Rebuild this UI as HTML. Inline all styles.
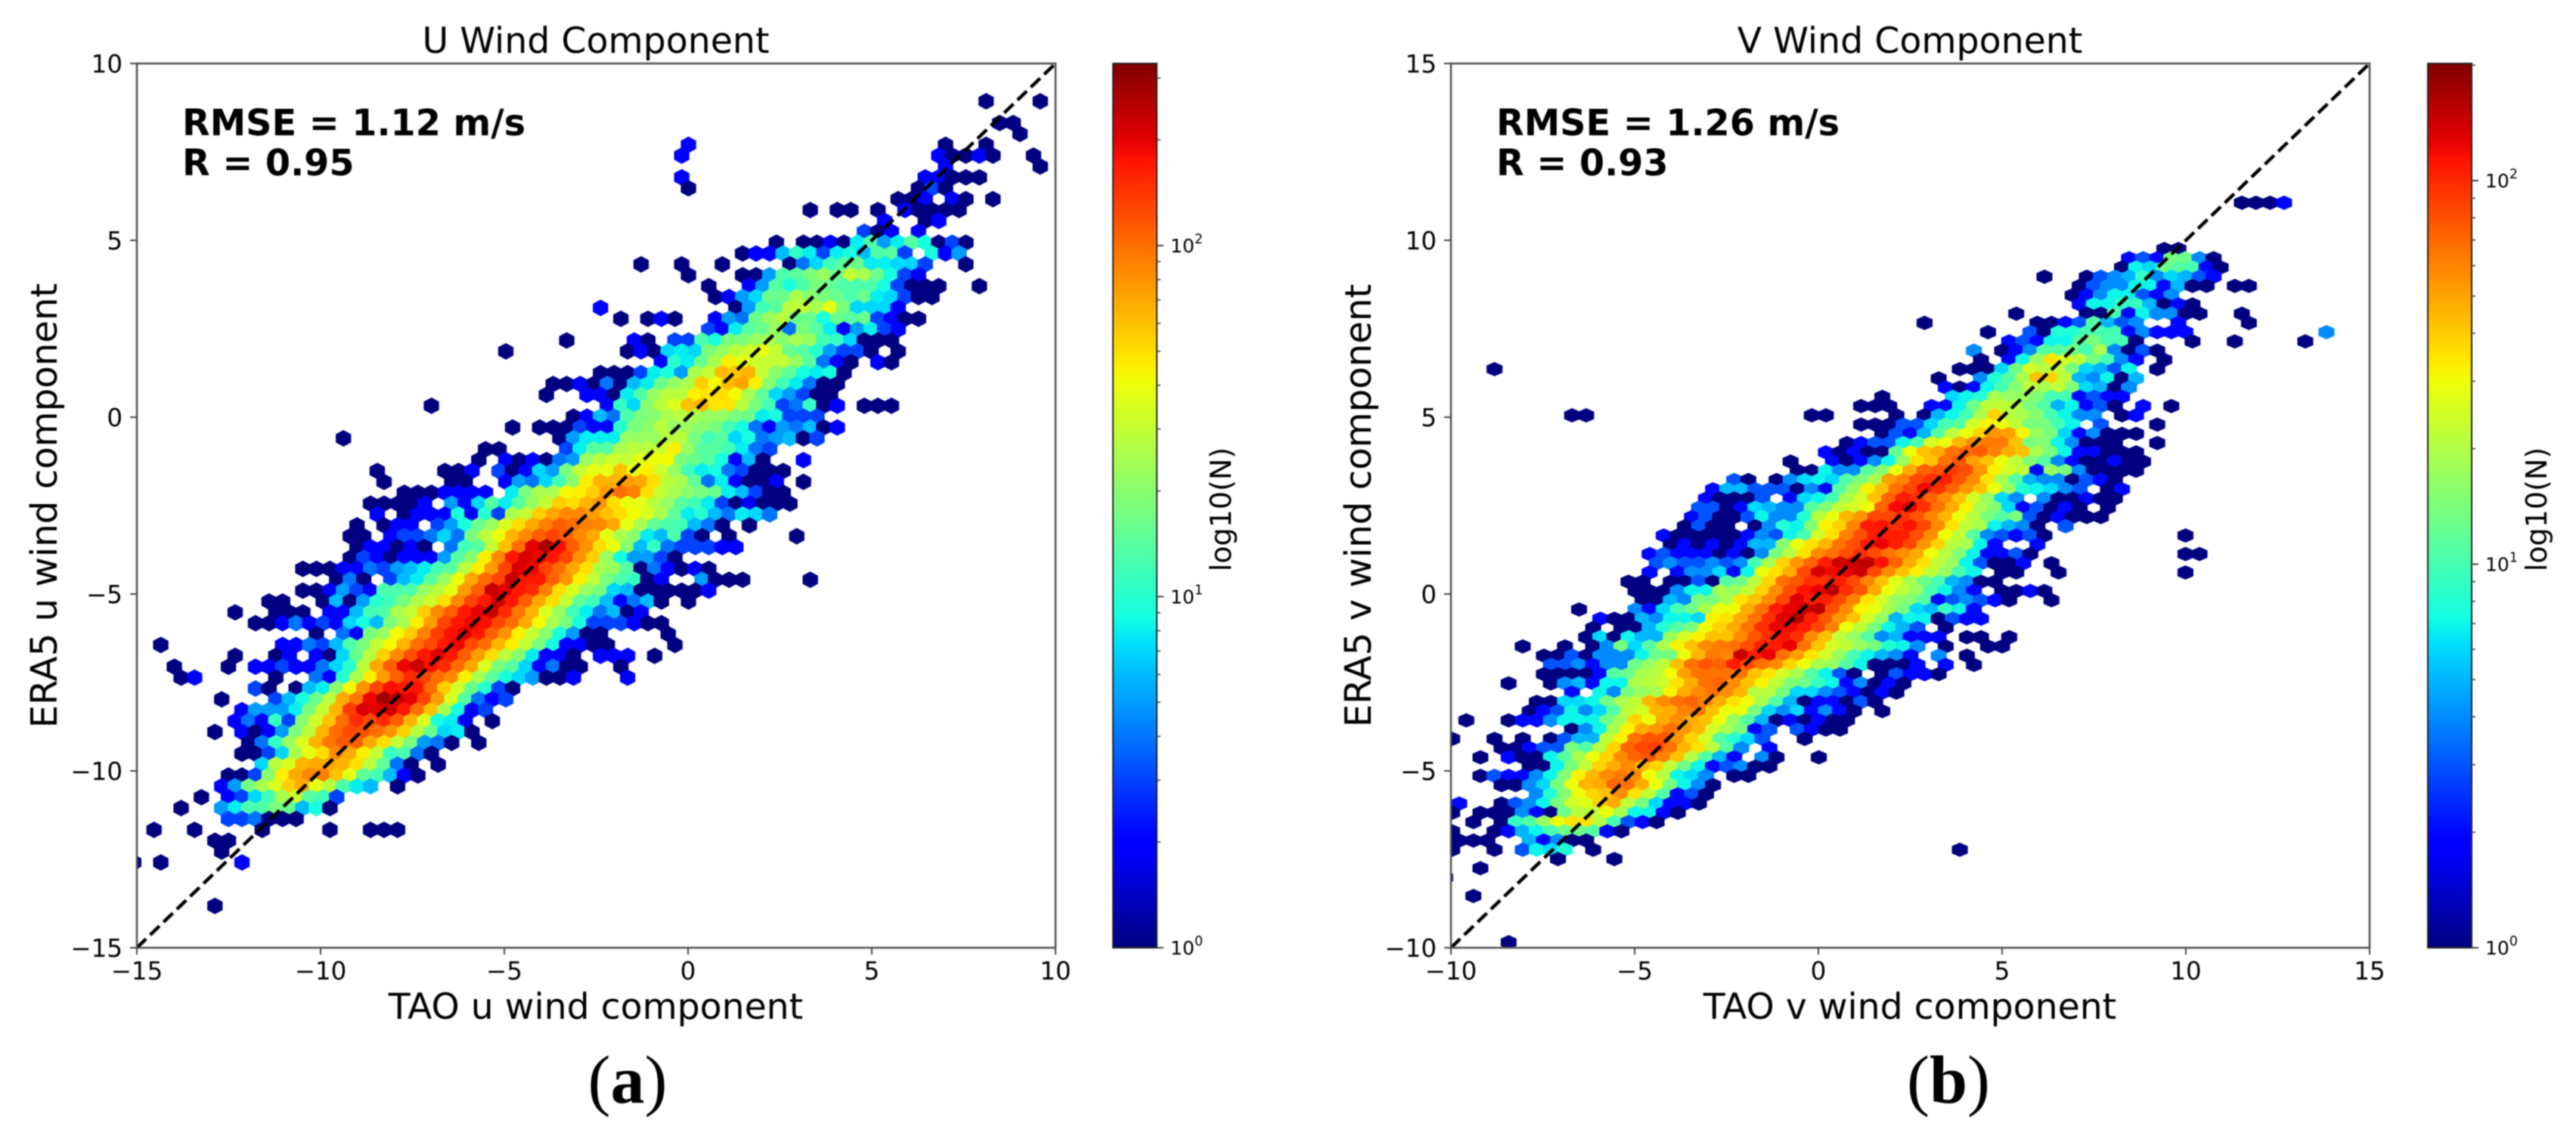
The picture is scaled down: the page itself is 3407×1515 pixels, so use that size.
<!DOCTYPE html>
<html lang="en">
<head>
<meta charset="utf-8">
<title>TAO vs ERA5 wind component hexbin comparison</title>
<style>
html,body{margin:0;padding:0;background:#fff;}
svg{display:block;filter:blur(0.7px);}
text{font-family:"DejaVu Sans","Liberation Sans",sans-serif;fill:#000;}
.cap{font-family:"Liberation Serif",serif;font-size:90px;}
</style>
</head>
<body>
<svg id="figure" xmlns="http://www.w3.org/2000/svg" width="3407" height="1515" viewBox="0 0 3407 1515">
  <defs>
    <clipPath id="clip-u"><rect x="181" y="84" width="1215" height="1170"/></clipPath>
    <clipPath id="clip-v"><rect x="1919" y="84" width="1215" height="1170"/></clipPath>
    <linearGradient id="jet-gradient" x1="0" y1="1" x2="0" y2="0"></linearGradient>
  </defs>
  <rect x="0" y="0" width="3407" height="1515" fill="#fff"/>
  <g id="panel-u"></g>
  <g id="panel-v"></g>

  <text x="788" y="70" font-size="47.4" text-anchor="middle">U Wind Component</text>
  <text x="788" y="1348" font-size="47.3" text-anchor="middle">TAO u wind component</text>
  <text transform="translate(75,669) rotate(-90)" font-size="48.2" text-anchor="middle">ERA5 u wind component</text>
  <text x="241" y="179" font-size="47.7" font-weight="bold">RMSE = 1.12 m/s</text>
  <text x="241" y="232" font-size="47.7" font-weight="bold">R = 0.95</text>
  <text transform="translate(1628,674) rotate(-90)" font-size="38" text-anchor="middle">log10(N)</text>
  <text class="cap" x="830" y="1459" text-anchor="middle">(<tspan font-weight="bold">a</tspan>)</text>

  <text x="2526" y="70" font-size="47.4" text-anchor="middle">V Wind Component</text>
  <text x="2526" y="1348" font-size="47.3" text-anchor="middle">TAO v wind component</text>
  <text transform="translate(1813,669) rotate(-90)" font-size="48.2" text-anchor="middle">ERA5 v wind component</text>
  <text x="1979" y="179" font-size="47.7" font-weight="bold">RMSE = 1.26 m/s</text>
  <text x="1979" y="232" font-size="47.7" font-weight="bold">R = 0.93</text>
  <text transform="translate(3368,674) rotate(-90)" font-size="38" text-anchor="middle">log10(N)</text>
  <text class="cap" x="2577" y="1459" text-anchor="middle">(<tspan font-weight="bold">b</tspan>)</text>
</svg>

<script>
// Axis ticks and diagonals (m/s)
const uAxisTicks = [-15, -10, -5, 0, 5, 10];
const vAxisTicks = [-10, -5, 0, 5, 10, 15];
const uDiagonal = [-15, 10];
const vDiagonal = [-10, 15];

// Colorbar scale (counts, log axis)
const uColorMax = 330;
const vColorMax = 202;
const colorbarDecades = [0, 1, 2];
const colorbarMinorMultiples = [2, 3, 4, 5, 6, 7, 8, 9];

// Hexbin counts.
// One entry per lattice row, top to bottom. Each row holds runs: [firstColumn, count, count, ...]
const uRowBins = [
[[62,1,0,0,0,1]],
[],
[[63,1,1]],
[[65,1]],
[[40,2],[59,1,0,0,1]],
[[40,2],[59,2,1,1,2,1,0,0,1]],
[[59,2],[66,1]],
[[40,2],[58,2,2,1,1,1]],
[[40,1],[57,1,3,1]],
[[56,1,1,2,0,2,1,0,1]],
[[49,1,0,1,1,0,1,0,2,1,1,1,1]],
[[55,2,0,0,1,2]],
[[53,3,1,2,0,2]],
[[47,1,0,1,1,2,1,8,13,5,8,14,9,1,3,1]],
[[44,1,2,2,6,11,8,3,8,9,6,13,14,3,0,9,2,5]],
[[37,1,0,0,1],[43,1],[48,1,4,7,12,14,16,8,8,7,7,3,0,0,1]],
[[40,1],[44,1,1,5,13,14,18,22,16,30,25,16,9,3,2]],
[[42,1],[45,2,5,14,9,13,18,16,13,13,13,9,3,1,1,1,0,0,1]],
[[42,1,2,5,7,16,16,25,20,18,16,13,16,8,7,3,1,1]],
[[34,2],[44,1,5,12,14,28,30,25,38,18,7,7,7,2]],
[[35,1,0,1,2,1,0,0,2,5,4,16,22,28,16,16,9,16,14,16,3,2,1,1]],
[[42,3,2,8,14,16,22,4,18,14,8,2,5,8,3,2]],
[[31,1],[36,2,1,0,3,3,13,9,18,18,22,25,20,25,22,12,11,7,1,1,1]],
[[27,1],[36,1,2,1,7,8,7,18,22,28,32,40,30,16,14,10,5,3,3,1,0,1]],
[[38,2,10,8,16,25,45,38,32,30,30,22,14,4,2,1,0,2,1]],
[[34,1,1,1,3,8,9,5,25,30,62,58,65,30,20,15,9,8,9,1]],
[[30,1,1,2,1,4,1,6,8,16,22,25,55,42,62,72,45,20,12,8,4,1,1]],
[[30,1],[33,2,2,1,8,13,22,28,28,45,48,50,42,25,15,7,5,3,1,1]],
[[21,1],[34,2,11,7,20,28,35,60,65,48,48,28,18,12,3,4,11,1,2,0,1,1,1]],
[[32,1,2,6,4,13,18,20,25,28,25,22,22,18,16,8,9,3,3,3]],
[[27,1,0,1,1,1,3,2,2,10,18,20,28,22,22,20,18,12,9,4,2,5,4,6,1,2]],
[[15,1],[31,1,5,8,8,8,22,22,22,28,28,18,12,14,7,9,4,5,6,1,3]],
[[25,1,1,0,0,0,0,3,8,14,14,25,28,28,32,45,22,14,14,12,8,4,3]],
[[25,1,0,2,1,2,1,4,5,22,28,32,30,38,40,42,18,16,14,9,2,6,1,0,0,2]],
[[17,1],[22,1,1,2,0,3,1,2,7,5,18,30,38,38,60,40,45,32,22,12,8,9,4,3,1,1,1]],
[[18,1],[23,1,1,0,0,2,5,4,7,12,20,45,65,65,75,70,50,28,25,15,4,8,2,1,1,2,0,1]],
[[19,1,1,1,2,2,2,2,0,8,18,25,25,42,45,55,75,100,90,50,30,25,20,18,16,8,6,3,1,1]],
[[17,1,1,1,1,2,0,5,2,7,14,8,14,22,30,55,50,65,80,50,40,38,28,22,14,12,8,3,1,2,1,1,1]],
[[17,2,0,1,2,2,2,9,2,10,3,25,30,55,70,85,85,75,60,50,42,35,25,15,8,10,6,4,8,7,4]],
[[16,1,0,1,2,2,0,3,5,9,16,22,35,50,70,90,110,100,90,85,70,38,25,15,13,12,6,4,1,0,1]],
[[15,1,1,0,2,3,3,4,7,4,18,28,40,65,85,110,130,110,85,70,38,25,20,8,6,13,3,1,0,1],[48,1]],
[[16,1,2,2,1,2,1,0,4,12,14,30,60,100,200,270,180,110,80,50,40,20,6,11,4,3,3,3,2,2]],
[[15,1,3,2,1,2,2,2,5,14,20,45,85,170,210,190,170,130,80,55,22,9,5,5,3,1]],
[[12,1,1,1,2,2,4,3,5,6,8,12,14,28,45,75,130,210,190,130,100,70,50,25,22,14,1,4,2,1,2,1]],
[[14,1,4,1,0,3,6,8,14,22,40,70,100,130,230,170,170,110,80,45,30,18,13,11,1,2,0,0,5,1,1,1],[49,1]],
[[12,1,1,2,5,3,2,13,13,13,22,28,38,75,110,230,200,170,150,90,50,35,22,18,7,6,1,1,1,1,1,2]],
[[9,1,1,0,0,1,6,1,5,10,12,18,26,32,50,85,130,170,220,170,110,70,50,30,15,12,6,2,4,6,1,0,1]],
[[7,1],[10,1,1,1,0,2,2,6,12,13,25,30,55,85,110,170,200,230,150,95,65,35,22,12,8,4,6,1,2]],
[[8,1,1,2,4,2,3,2,7,9,6,18,25,45,75,130,170,190,180,130,100,70,42,25,18,9,3,3,3,2,1,1]],
[[13,1,0,4,2,18,22,42,55,90,135,180,200,170,110,80,45,30,20,9,5,1,1],[39,1]],
[[1,1],[10,2,2,4,3,6,13,18,30,42,65,100,125,170,190,125,100,65,45,30,18,9,2,2,1,1],[39,1]],
[[7,1],[10,1,2,0,2,1,7,16,28,55,85,120,170,200,170,110,75,50,28,20,8,2,2,1,0,2,2,2,0,1]],
[[2,1],[6,1],[8,2,2,3,2,2,4,7,10,28,70,110,190,230,180,150,100,70,35,18,14,7,2,4,1,1,0,0,1]],
[[3,1,2],[10,1],[13,4,2,10,25,45,75,110,150,130,100,85,45,25,15,9,7,5,1,1,2],[36,2]],
[[8,3,1],[11,1,6,8,20,42,80,130,180,170,170,100,55,33,16,10,3,1]],
[[6,1],[10,3,6,9,16,28,70,95,190,280,230,200,130,75,35,14,4,2,3]],
[[7,2,5,5,5,8,18,30,65,135,210,200,220,170,100,60,25,9,2,3]],
[[7,2,4,2,11,3,20,33,60,100,150,125,150,110,65,35,9,8,2],[26,1]],
[[5,1],[7,2,1,2,5,18,28,65,100,125,120,100,80,55,28,16,7,8,1]],
[[8,1,4,11,22,35,65,95,115,110,70,50,30,18,5,4,1],[25,1]],
[[7,1,1,3,7,25,38,50,85,70,45,30,11,13,4,1]],
[[9,7,28,35,65,70,70,65,50,28,15,4,1],[22,1]],
[[6,1,1,3,20,45,70,85,90,60,38,15,12,6,2,1]],
[[6,2,5,17,25,35,55,70,38,28,13,8,6],[19,1]],
[[4,1],[6,2,3,7,12,25,32,14,12,3]],
[[3,1],[6,5,8,13,13,18,16,6,9,1]],
[[6,3,3,4,1,1,1]],
[[1,1],[4,1],[9,1],[14,1],[17,1,1,1]],
[[5,1,1]],
[[6,1]],
[[-1,1],[1,1],[7,2]],
[],
[],
[],
[[5,1]]
];

const vRowBins = [
[[56,1,1,1,2]],
[],
[],
[],
[],
[[50,1,1]],
[[48,2,3,2,14,13,4,1]],
[[47,1,7,6,13,11,10,2,1]],
[[42,1],[45,1,3,4,5,9,4,6,5,3,2]],
[[44,1,3,4,4,7,7,2,5,1,1],[55,1,1]],
[[44,1,2,4,7,7,3,2,4]],
[[44,2,7,7,9,9,5,1,2,1]],
[[40,1],[45,1,1,10,2,7,4,4,1,1],[56,1]],
[[33,1],[41,1,1,2,3,11,5,3,4,0,0,2],[56,1]],
[[38,1],[41,3,1,8,8,10,10,10,2,4,2,2,2],[62,4]],
[[39,2,3,2,7,7,11,14,10,10,1],[52,1],[55,1],[60,1]],
[[37,4,0,1,2,4,11,11,13,10,19,4,1,3,1]],
[[37,1,0,2,7,17,35,25,22,14,10,4,2,0,1]],
[[3,1],[36,1,1,1,6,13,25,21,22,14,6,5,3,7,0,1]],
[[34,1],[37,4,8,11,19,42,38,21,5,4,7,1,5]],
[[35,2,1,2,7,10,15,22,19,22,15,6,5,1,4]],
[[30,1],[35,6,7,8,19,17,17,15,10,10,2,3,2,2]],
[[29,1,1,1],[34,2,2,7,13,22,22,21,14,11,5,7,2,3,1,0,2,0,1]],
[[8,1,1],[25,1,1],[31,1,0,1,5,7,10,19,38,21,19,15,10,7,4,4,0,1,2]],
[[29,1,1,1,3,3,6,10,11,25,32,29,22,14,14,10,7,0,3],[50,1]],
[[30,1,3,2,5,11,21,29,38,54,51,32,17,14,6,2,4,1,1,1]],
[[28,1,2,3,3,7,10,25,29,45,57,63,63,42,14,15,7,4,1,1,1],[50,1]],
[[26,2,1,2,1,1,12,29,42,48,66,72,75,60,48,42,19,14,7,2,2,1,1,1]],
[[24,1],[27,2,1,2,4,7,17,35,42,66,78,51,42,29,22,15,11,4,2,1,1,2,1,1]],
[[24,1,1,7,4,4,11,15,29,48,72,78,90,81,54,32,25,22,2,17,14,4,1,1,1,1]],
[[20,3,1,0,1,4,6,7,6,11,14,19,51,60,84,96,107,78,57,35,19,11,5,4,4,1,3,2,1]],
[[18,2,5,5,3,3,3,1,4,2,11,17,32,42,66,84,119,96,72,54,42,29,17,8,7,6,4,3,0,1,2]],
[[18,2,1,1,1,3,0,2,6,7,10,19,25,42,72,107,96,72,57,42,25,17,6,4,0,4,1,1,2,1,1]],
[[17,3,3,1,2,6,5,4,4,11,15,22,25,30,72,119,130,96,66,48,32,19,15,6,2,3,1,2,1,0,1]],
[[17,2,3,1,1,3,7,4,4,8,21,29,45,54,84,84,96,78,60,45,29,21,14,11,14,3,1,2,1,1,1]],
[[16,1,3,1,1,0,1,4,8,7,15,32,38,60,107,113,96,113,84,57,35,22,19,7,5,4,1,0,3]],
[[15,2,1,1,1,1,1,2,4,3,7,10,25,35,60,81,107,107,107,81,57,30,22,11,4,3,2,3,1],[52,1]],
[[15,1,2,1,2,1,2,5,5,15,29,35,45,66,81,107,124,107,84,54,38,21,19,7,2,0,0,2]],
[[14,2,3,2,2,2,1,2,1,4,14,21,35,57,66,81,96,81,66,57,48,29,21,15,7,2,2,3,1],[52,1,1]],
[[14,3,4,3,3,4,3,4,10,19,38,54,72,107,142,142,153,113,72,48,35,22,17,7,3,1,1,2,0,1]],
[[14,2,0,2,4,4,6,2,7,29,35,48,84,136,119,124,142,84,57,42,32,22,17,10,7,0,1,1,0,0,1],[52,1]],
[[12,1,1,0,1,1,3,1,11,13,21,38,66,78,96,96,107,84,60,42,27,19,13,10,5,4,1,1]],
[[13,1,1,1,4,7,7,19,17,22,38,57,81,113,124,153,96,78,48,29,22,17,10,7,4,2,0,1,1,2,1]],
[[13,1,1,5,4,14,14,19,35,42,57,84,130,107,107,84,60,35,25,17,15,11,2,3,4,3,2,1,0,0,1]],
[[9,1],[13,4,2,6,10,13,19,29,30,48,66,107,124,142,153,81,57,32,29,19,14,6,5,9,7,2]],
[[10,2,1,1,5,4,7,7,6,32,35,48,66,96,130,159,107,78,54,42,25,17,5,7,7,1,3,2,2]],
[[10,1,0,1,1,5,8,11,14,30,38,48,66,96,124,119,107,84,60,29,22,14,7,5,3,0,1]],
[[9,1,6,1,7,5,5,17,25,32,42,42,57,78,96,113,96,57,42,22,17,11,4,5,2,2,2,0,1,1,0,1]],
[[5,1],[8,1,0,1,4,14,6,11,19,32,42,57,63,66,81,107,107,124,66,42,25,22,17,14,8,7,4,0,1,0,0,1,1]],
[[6,1,1,3,1,4,4,4,7,13,13,29,45,63,60,142,107,124,66,51,35,25,17,10,7,5,4,2,0,4,0,1]],
[[7,3,3,4,2,4,4,13,17,22,42,66,78,72,107,84,66,57,38,29,19,17,11,7,1,1,1,2,0,2,0,1]],
[[6,1,1,1,1,2,11,13,19,21,30,51,66,66,66,66,42,35,25,19,11,7,3,1,0,1,3,2,2,1]],
[[4,1],[7,1,4,5,2,7,7,19,21,24,35,48,66,72,57,42,32,22,15,13,9,7,2,4,1,2,1]],
[[8,2,0,7,4,14,17,19,32,48,57,66,57,45,21,21,14,6,6,4,3,2,1,2,1]],
[[6,1,1,6,6,7,13,19,22,45,57,66,72,60,48,35,30,19,11,5,1,2,2,1,3,1]],
[[5,1,2,3,7,4,6,11,22,25,45,48,60,66,42,29,29,14,6,4,6,2,4,2,1,0,1]],
[[1,1],[4,1,2,2,4,7,7,7,13,19,38,29,48,57,48,42,30,17,11,5,1,2,1,2,1,1]],
[[8,1,4,7,19,32,48,54,66,54,45,25,19,14,2,3,0,3,2,1,1]],
[[0,1],[3,1],[5,1],[7,1,3,5,5,22,32,66,78,78,54,38,25,11,8,6,3],[25,1]],
[[3,1,1,2,3,3,14,11,21,38,72,84,90,66,45,35,21,11,4,0,2]],
[[2,1],[4,2,1,1,7,11,19,29,38,57,72,78,60,42,21,11,5,2,0,4,1],[26,1]],
[[5,1,1,7,14,22,38,48,57,45,38,22,13,7,2,3,4,1,1]],
[[2,1,3,2,2,4,7,15,32,45,57,63,57,30,21,7,6,4],[20,1,1]],
[[3,1,1,4,6,14,29,45,48,72,66,48,29,14,7,4,1]],
[[6,4,8,15,29,38,42,57,35,22,11,2,3,1]],
[[0,2],[3,1,3,4,7,14,24,27,38,48,22,14,6,2,2,1]],
[[0,1],[2,1,1,1,4,2,1,13,21,22,29,19,7,7,2,1]],
[[1,1],[3,1,9,11,17,29,35,35,21,10,3,2,1]],
[[0,1],[3,1,2,5,7,10,13,13,11,2,1]],
[[0,1,1,1],[5,5,2,4,1,1]],
[[0,1],[3,1],[5,3,7,6,8,0,1],[36,1]],
[[7,1],[11,1]],
[[2,1]],
[[-1,1]],
[],
[[1,1]],
[],
[],
[],
[],
[[4,1]]
];

const SVG_NS = 'http://www.w3.org/2000/svg';

function lerpStops(stops, t) {
  for (let i = 1; i < stops.length; i++) {
    if (t <= stops[i][0]) {
      const a = stops[i - 1], b = stops[i];
      return a[1] + (b[1] - a[1]) * (t - a[0]) / (b[0] - a[0]);
    }
  }
  return stops[stops.length - 1][1];
}
const jetRed = [[0, 0], [0.35, 0], [0.66, 1], [0.89, 1], [1, 0.5]];
const jetGreen = [[0, 0], [0.125, 0], [0.375, 1], [0.64, 1], [0.91, 0], [1, 0]];
const jetBlue = [[0, 0.5], [0.11, 1], [0.34, 1], [0.65, 0], [1, 0]];
function jet(t) {
  const c = Math.max(0, Math.min(1, t));
  const r = Math.round(255 * lerpStops(jetRed, c));
  const g = Math.round(255 * lerpStops(jetGreen, c));
  const b = Math.round(255 * lerpStops(jetBlue, c));
  return 'rgb(' + r + ',' + g + ',' + b + ')';
}

const gradient = document.getElementById('jet-gradient');
for (let i = 0; i <= 64; i++) {
  const stop = document.createElementNS(SVG_NS, 'stop');
  stop.setAttribute('offset', (i / 64).toFixed(4));
  stop.setAttribute('stop-color', jet(i / 64));
  gradient.appendChild(stop);
}

function drawPanel(opts) {
  const group = document.getElementById(opts.groupId);
  const scaleX = v => opts.left + (v - opts.domain[0]) * (opts.right - opts.left) / (opts.domain[1] - opts.domain[0]);
  const scaleY = v => opts.bottom - (v - opts.domain[0]) * (opts.bottom - opts.top) / (opts.domain[1] - opts.domain[0]);
  const colorOf = n => jet(Math.log(n) / Math.log(opts.colorMax));

  const clipped = document.createElementNS(SVG_NS, 'g');
  clipped.setAttribute('clip-path', 'url(#' + opts.clipId + ')');
  
  
  group.appendChild(clipped);

  const halfW = opts.binWidth / 2;
  const rowH = opts.rowHeight;
  opts.rows.forEach(function (runs, row) {
    const yVal = opts.firstRowY - row * rowH;
    const xShift = row % 2 ? opts.oddRowShift * opts.binWidth : 0;
    runs.forEach(function (run) {
      const firstCol = run[0];
      run.slice(1).forEach(function (count, i) {
        if (count <= 0) return;
        const xVal = opts.firstColX + (firstCol + i) * opts.binWidth + xShift;
        const xL = scaleX(xVal - halfW), xC = scaleX(xVal), xR = scaleX(xVal + halfW);
        const yT = scaleY(yVal + rowH * 2 / 3), yU = scaleY(yVal + rowH / 3);
        const yL = scaleY(yVal - rowH / 3), yB = scaleY(yVal - rowH * 2 / 3);
        const hex = document.createElementNS(SVG_NS, 'path');
        hex.setAttribute('d', 'M' + xC.toFixed(1) + ' ' + yT.toFixed(1) + 'L' + xR.toFixed(1) + ' ' + yU.toFixed(1) + 'L' + xR.toFixed(1) + ' ' + yL.toFixed(1) + 'L' + xC.toFixed(1) + ' ' + yB.toFixed(1) + 'L' + xL.toFixed(1) + ' ' + yL.toFixed(1) + 'L' + xL.toFixed(1) + ' ' + yU.toFixed(1) + 'Z');
        const col = colorOf(count);
        hex.setAttribute('fill', col);
        hex.setAttribute('stroke', col);
        hex.setAttribute('stroke-width', '2.4');
        
        
        clipped.appendChild(hex);
      });
    });
  });

  const diag = document.createElementNS(SVG_NS, 'line');
  diag.setAttribute('x1', scaleX(opts.diagonal[0]));
  diag.setAttribute('y1', scaleY(opts.diagonal[0]));
  diag.setAttribute('x2', scaleX(opts.diagonal[1]));
  diag.setAttribute('y2', scaleY(opts.diagonal[1]));
  diag.setAttribute('stroke', '#000');
  diag.setAttribute('stroke-width', '4.5');
  diag.setAttribute('stroke-dasharray', '17 7.5');
  
  
  clipped.appendChild(diag);

  const frame = document.createElementNS(SVG_NS, 'rect');
  frame.setAttribute('x', opts.left);
  frame.setAttribute('y', opts.top);
  frame.setAttribute('width', opts.right - opts.left);
  frame.setAttribute('height', opts.bottom - opts.top);
  frame.setAttribute('fill', 'none');
  frame.setAttribute('stroke', '#555');
  frame.setAttribute('stroke-width', '2.6');
  
  
  group.appendChild(frame);

  opts.ticks.forEach(function (tick) {
    const label = String(tick).replace('-', '\u2212');

    const xTick = document.createElementNS(SVG_NS, 'line');
    xTick.setAttribute('x1', scaleX(tick));
    xTick.setAttribute('x2', scaleX(tick));
    xTick.setAttribute('y1', opts.bottom);
    xTick.setAttribute('y2', opts.bottom + 9);
    xTick.setAttribute('stroke', '#444');
    xTick.setAttribute('stroke-width', '2');
    
    
    group.appendChild(xTick);

    const xText = document.createElementNS(SVG_NS, 'text');
    xText.setAttribute('x', scaleX(tick));
    xText.setAttribute('y', opts.bottom + 42);
    xText.setAttribute('font-size', '32.5');
    xText.setAttribute('text-anchor', 'middle');
    
    
    xText.textContent = label;
    group.appendChild(xText);

    const yTick = document.createElementNS(SVG_NS, 'line');
    yTick.setAttribute('x1', opts.left - 9);
    yTick.setAttribute('x2', opts.left);
    yTick.setAttribute('y1', scaleY(tick));
    yTick.setAttribute('y2', scaleY(tick));
    yTick.setAttribute('stroke', '#444');
    yTick.setAttribute('stroke-width', '2');
    
    
    group.appendChild(yTick);

    const yText = document.createElementNS(SVG_NS, 'text');
    yText.setAttribute('x', opts.left - 19);
    yText.setAttribute('y', scaleY(tick) + 12);
    yText.setAttribute('font-size', '32.5');
    yText.setAttribute('text-anchor', 'end');
    
    
    yText.textContent = label;
    group.appendChild(yText);
  });

  // Colorbar
  const barLeft = opts.barLeft, barRight = opts.barLeft + 58;
  const scaleBar = n => opts.bottom - Math.log(n) / Math.log(opts.colorMax) * (opts.bottom - opts.top);

  const bar = document.createElementNS(SVG_NS, 'rect');
  bar.setAttribute('x', barLeft);
  bar.setAttribute('y', opts.top);
  bar.setAttribute('width', barRight - barLeft);
  bar.setAttribute('height', opts.bottom - opts.top);
  bar.setAttribute('fill', 'url(#jet-gradient)');
  bar.setAttribute('stroke', '#222');
  bar.setAttribute('stroke-width', '2');
  
  
  group.appendChild(bar);

  colorbarDecades.forEach(function (decade) {
    const value = Math.pow(10, decade);
    const y = scaleBar(value);

    const major = document.createElementNS(SVG_NS, 'line');
    major.setAttribute('x1', barRight);
    major.setAttribute('x2', barRight + 9);
    major.setAttribute('y1', y);
    major.setAttribute('y2', y);
    major.setAttribute('stroke', '#444');
    major.setAttribute('stroke-width', '2');
    
    
    group.appendChild(major);

    const tickText = document.createElementNS(SVG_NS, 'text');
    tickText.setAttribute('x', barRight + 18);
    tickText.setAttribute('y', y + 9);
    tickText.setAttribute('font-size', '25');
    tickText.setAttribute('fill', '#222');
    
    
    tickText.textContent = '10';
    const sup = document.createElementNS(SVG_NS, 'tspan');
    sup.setAttribute('font-size', '17.5');
    sup.setAttribute('dy', '-12');
    sup.textContent = String(decade);
    tickText.appendChild(sup);
    group.appendChild(tickText);

    colorbarMinorMultiples.forEach(function (multiple) {
      const minorValue = value * multiple;
      if (minorValue > opts.colorMax) return;
      const minor = document.createElementNS(SVG_NS, 'line');
      minor.setAttribute('x1', barRight);
      minor.setAttribute('x2', barRight + 5);
      minor.setAttribute('y1', scaleBar(minorValue));
      minor.setAttribute('y2', scaleBar(minorValue));
      minor.setAttribute('stroke', '#444');
      minor.setAttribute('stroke-width', '1.6');
      
      
      group.appendChild(minor);
    });
  });
}

drawPanel({
  groupId: 'panel-u', clipId: 'clip-u',
  left: 181, right: 1396, top: 84, bottom: 1254, barLeft: 1472,
  domain: [uAxisTicks[0], uAxisTicks[uAxisTicks.length - 1]],
  ticks: uAxisTicks, diagonal: uDiagonal, colorMax: uColorMax, rows: uRowBins,
  binWidth: 0.36821, rowHeight: 0.30744,
  firstColX: -14.7165, firstRowY: 8.9316, oddRowShift: -0.5
});
drawPanel({
  groupId: 'panel-v', clipId: 'clip-v',
  left: 1919, right: 3134, top: 84, bottom: 1254, barLeft: 3211,
  domain: [vAxisTicks[0], vAxisTicks[vAxisTicks.length - 1]],
  ticks: vAxisTicks, diagonal: vDiagonal, colorMax: vColorMax, rows: vRowBins,
  binWidth: 0.38374, rowHeight: 0.26132,
  firstColX: -9.9655, firstRowY: 11.062, oddRowShift: 0.5
});
</script>
</body>
</html>
